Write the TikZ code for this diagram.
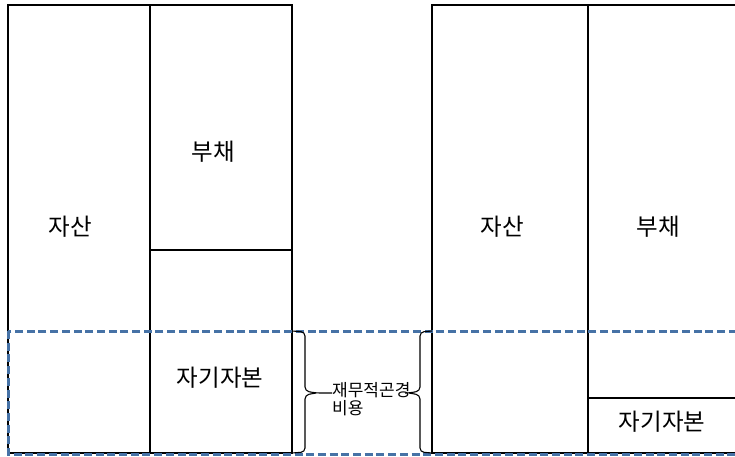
\documentclass[tikz,border=0pt]{standalone}
\usepackage{fontspec}
\setmainfont{Noto Sans CJK KR}
\definecolor{dashblue}{RGB}{70,114,166}
\begin{document}
\begin{tikzpicture}[x=1pt,y=-1pt,
  boxline/.style={draw=black,line width=2.2pt},
  bluedash/.style={draw=dashblue,line width=3pt,dash pattern=on 8pt off 3.7pt},
  bracestyle/.style={draw=black,line width=1.1pt,rounded corners=4pt},
  big/.style={font=\fontsize{23.5}{26}\selectfont,inner sep=0pt},
  small/.style={font=\fontsize{17}{18}\selectfont,inner sep=0pt,align=left}]
\clip (0,0) rectangle (735,457);
% left balance sheet
\draw[boxline] (8,5) rectangle (292,453);
\draw[boxline] (150,5) -- (150,453);
\draw[boxline] (150,250) -- (292,250);
% right balance sheet
\draw[boxline] (760,5) -- (432,5) -- (432,453) -- (760,453);
\draw[boxline] (588,5) -- (588,453);
\draw[boxline] (588,398) -- (760,398);
% blue dashed band
\draw[bluedash] (8,331) rectangle (770,454);
% texts
\node[big] (asset1) at (70,227) {자산};
\node[big] (debt1) at (213,152) {부채};
\node[big] (eq1) at (220,378) {자기자본};
\node[big] (asset2) at (502,227) {자산};
\node[big] (debt2) at (658,227) {부채};
\node[big] (eq2) at (662,422) {자기자본};
\node[small,anchor=west] (cost) at (332,399) {재무적곤경\\비용};
% braces
\coordinate (lt) at (292,331);
\coordinate (lb) at (292,453);
\coordinate (rt) at (432,331);
\coordinate (rb) at (432,453);
\draw[bracestyle] (lt) -- (305,332) -- (305,391) -- (316,393) -- (cost.west |- 0,393);
\draw[bracestyle] (lb) -- (305,452) -- (305,395) -- (316,393);
\draw[bracestyle] (rt) -- (420,332) -- (420,391) -- (409,393) -- (405,393);
\draw[bracestyle] (rb) -- (420,452) -- (420,395) -- (409,393);
\end{tikzpicture}
\end{document}
